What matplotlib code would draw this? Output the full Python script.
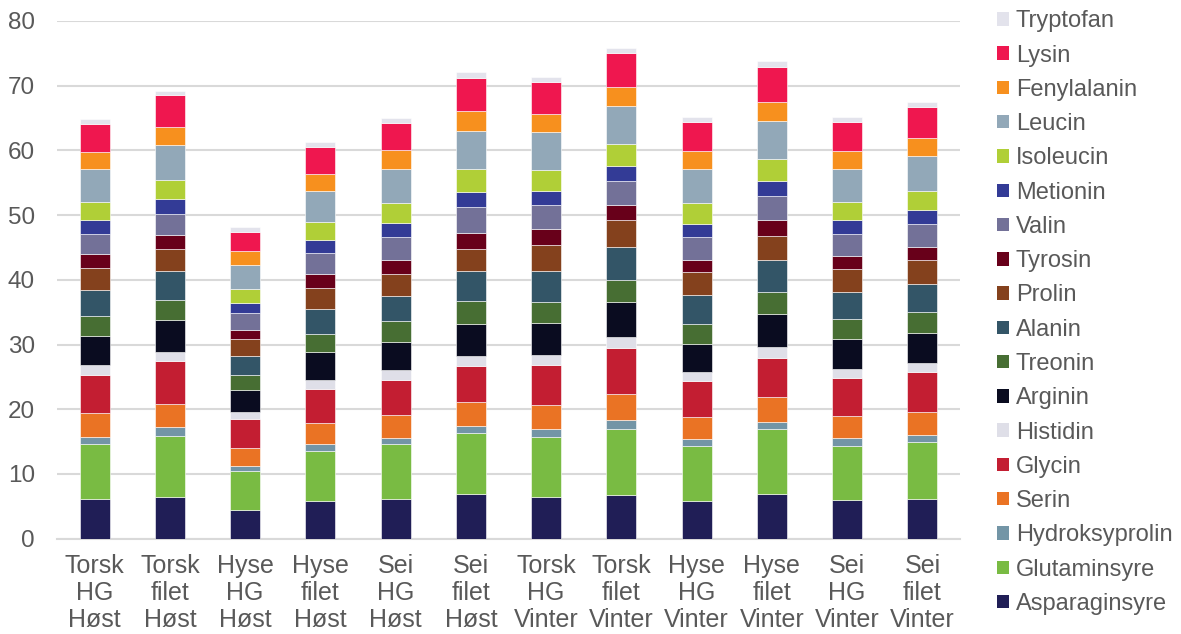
import numpy as np
import matplotlib
matplotlib.use("Agg")
import matplotlib.pyplot as plt
from matplotlib.patches import Patch


categories = [
    "Torsk\nHG\nHøst", "Torsk\nfilet\nHøst", "Hyse\nHG\nHøst", "Hyse\nfilet\nHøst",
    "Sei\nHG\nHøst", "Sei\nfilet\nHøst", "Torsk\nHG\nVinter", "Torsk\nfilet\nVinter",
    "Hyse\nHG\nVinter", "Hyse\nfilet\nVinter", "Sei\nHG\nVinter", "Sei\nfilet\nVinter",
]

# stacking order, bottom to top
amino_acids = [
    "Asparaginsyre", "Glutaminsyre", "Hydroksyprolin", "Serin", "Glycin",
    "Histidin", "Arginin", "Treonin", "Alanin", "Prolin", "Tyrosin",
    "Valin", "Metionin", "Isoleucin", "Leucin", "Fenylalanin", "Lysin",
    "Tryptofan",
]

asparaginsyre = [6.1, 6.5, 4.4, 5.8, 6.1, 6.9, 6.4, 6.8, 5.9, 6.9, 6.0, 6.1]
glutaminsyre = [8.5, 9.3, 6.1, 7.8, 8.5, 9.5, 9.3, 10.2, 8.4, 10.1, 8.3, 8.9]
hydroksyprolin = [1.1, 1.4, 0.8, 1.1, 1.0, 1.0, 1.2, 1.3, 1.1, 1.0, 1.3, 1.1]
serin = [3.8, 3.6, 2.7, 3.2, 3.5, 3.7, 3.8, 4.1, 3.4, 3.9, 3.4, 3.5]
glycin = [5.8, 6.6, 4.5, 5.3, 5.4, 5.6, 6.2, 7.1, 5.5, 6.1, 5.9, 6.1]
histidin = [1.5, 1.4, 1.1, 1.4, 1.5, 1.6, 1.5, 1.6, 1.4, 1.7, 1.4, 1.5]
arginin = [4.6, 5.0, 3.4, 4.3, 4.4, 4.9, 5.0, 5.4, 4.4, 5.0, 4.5, 4.6]
treonin = [3.0, 3.1, 2.3, 2.8, 3.2, 3.5, 3.2, 3.4, 3.1, 3.4, 3.1, 3.2]
alanin = [4.0, 4.4, 3.0, 3.8, 3.9, 4.6, 4.8, 5.1, 4.4, 4.9, 4.2, 4.3]
prolin = [3.4, 3.5, 2.5, 3.3, 3.4, 3.5, 4.0, 4.2, 3.6, 3.7, 3.5, 3.7]
tyrosin = [2.2, 2.2, 1.5, 2.1, 2.1, 2.5, 2.5, 2.3, 1.9, 2.5, 2.1, 2.1]
valin = [3.1, 3.2, 2.6, 3.3, 3.6, 3.9, 3.7, 3.7, 3.5, 3.8, 3.4, 3.5]
metionin = [2.2, 2.3, 1.5, 1.9, 2.2, 2.4, 2.1, 2.4, 2.1, 2.3, 2.2, 2.2]
isoleucin = [2.8, 2.9, 2.2, 2.8, 3.0, 3.5, 3.3, 3.4, 3.1, 3.4, 2.8, 3.0]
leucin = [5.0, 5.5, 3.7, 4.8, 5.3, 5.9, 5.8, 5.9, 5.4, 5.9, 5.1, 5.3]
fenylalanin = [2.7, 2.7, 2.2, 2.7, 2.9, 3.1, 2.9, 2.9, 2.7, 2.9, 2.7, 2.8]
lysin = [4.3, 4.9, 2.9, 4.1, 4.2, 5.1, 4.8, 5.3, 4.5, 5.4, 4.5, 4.8]
tryptofan = [0.7, 0.7, 0.7, 0.8, 0.8, 0.9, 0.8, 0.7, 0.8, 0.9, 0.8, 0.8]

series = [
    asparaginsyre, glutaminsyre, hydroksyprolin, serin, glycin, histidin,
    arginin, treonin, alanin, prolin, tyrosin, valin, metionin, isoleucin,
    leucin, fenylalanin, lysin, tryptofan,
]

colors = [
    "#201E56", "#79BB43", "#7395A6", "#EA7324", "#C31E32", "#DFDFE8",
    "#0A0C20", "#476E33", "#335567", "#84411D", "#68001A", "#737198",
    "#333B96", "#B0CF37", "#92A8B8", "#F7901E", "#EF174F", "#E3E3EC",
]

TEXT_COLOR = "#595959"
GRID_COLOR = "#D9D9D9"

plt.rcParams["font.family"] = ["Liberation Sans", "DejaVu Sans"]

fig = plt.figure(figsize=(11.81, 6.34), dpi=100)
ax = fig.add_axes([0.0483, 0.1503, 0.7646, 0.8166])

x = np.arange(len(categories))
bottom = np.zeros(len(categories))
for name, vals, col in zip(amino_acids, series, colors):
    vals = np.array(vals)
    ax.bar(x, vals, width=0.4, bottom=bottom, color=col,
           edgecolor="white", linewidth=0.4, label=name, zorder=3)
    bottom += vals

ax.set_xlim(-0.5, len(categories) - 0.5)
ax.set_ylim(0, 80)
ax.set_yticks(np.arange(0, 81, 10))
ax.grid(axis="y", color=GRID_COLOR, linewidth=1.5, zorder=0)

for s in ["top", "right", "left"]:
    ax.spines[s].set_visible(False)
ax.spines["bottom"].set_color(GRID_COLOR)
ax.spines["bottom"].set_linewidth(1.5)

ax.set_xticks(x)
ax.set_xticklabels(categories, linespacing=1.17)
ax.tick_params(axis="both", length=0, colors=TEXT_COLOR)
ax.tick_params(axis="y", pad=16, labelsize=17.5)
ax.tick_params(axis="x", pad=11, labelsize=18)

handles = [Patch(facecolor=c, edgecolor="none") for c in colors][::-1]
labels = amino_acids[::-1]
fig.legend(handles, labels, loc="upper left", bbox_to_anchor=(0.838, 0.995),
           frameon=False, fontsize=17, labelcolor=TEXT_COLOR,
           handlelength=0.5, handleheight=0.5, handletextpad=0.3,
           labelspacing=0.52, borderaxespad=0.0, borderpad=0.3)

fig.savefig("out.png", dpi=100)
